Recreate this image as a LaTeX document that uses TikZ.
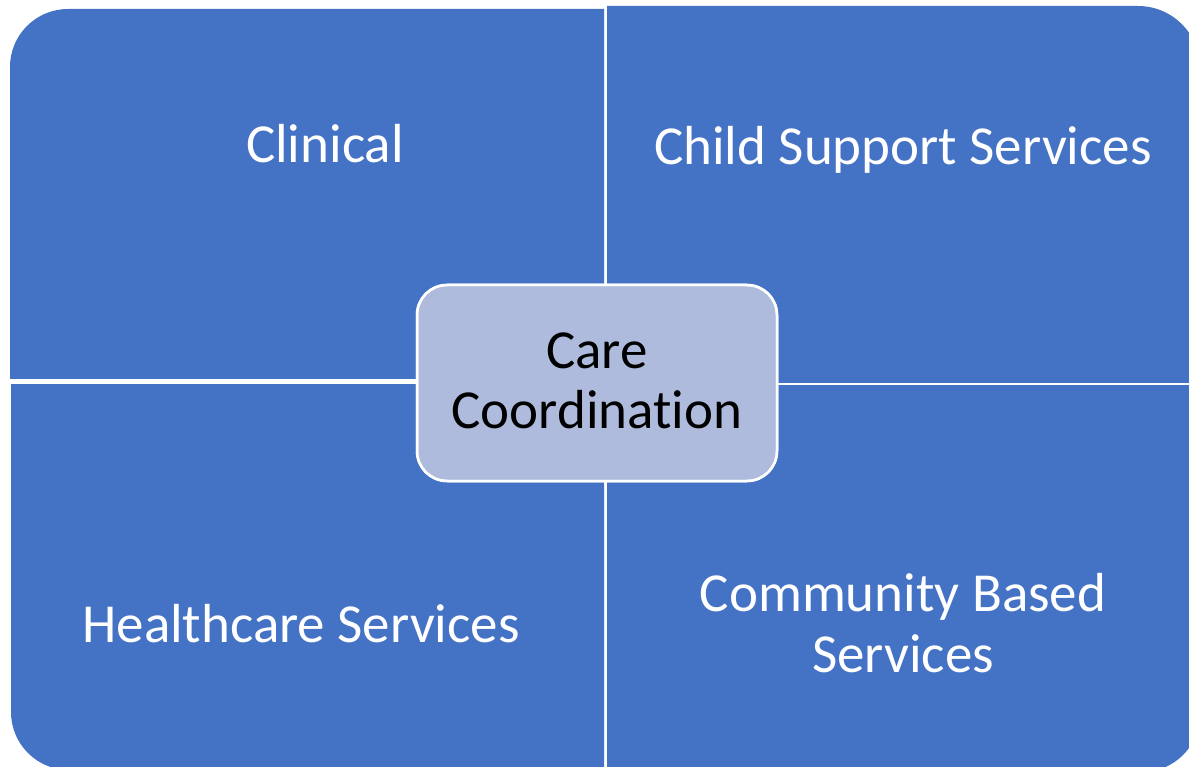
\documentclass[tikz,border=0pt]{standalone}
\usepackage{fontspec}
\setmainfont{Carlito}[Ligatures=NoCommon]
\definecolor{quadblue}{HTML}{4472C4}
\definecolor{hubfill}{HTML}{AFBBDD}
\begin{document}
\begin{tikzpicture}[x=1pt,y=-1pt,
  quad/.style={fill=quadblue},
  quadlabel/.style={text=white,font=\fontsize{55}{61}\selectfont,align=center,anchor=base,inner sep=0pt},
  hub/.style={fill=hubfill,draw=white,line width=2.5pt,rounded corners=30pt},
  hublabel/.style={text=black,font=\fontsize{55}{60}\selectfont,align=center,anchor=base,inner sep=0pt}]
\useasboundingbox (0,0) rectangle (1189,767);
\fill[white] (0,0) rectangle (1189,767);
% four quadrants, each rounded only at its outer corner
\begin{scope}
  \clip (10,9) rectangle (604,378);
  \fill[quad,rounded corners=58pt] (10,9) rectangle (900,700);
\end{scope}
\begin{scope}
  \clip (607,6) rectangle (1200,382);
  \fill[quad,rounded corners=62pt] (300,6) rectangle (1200,700);
\end{scope}
\begin{scope}
  \clip (11,384) rectangle (604,775);
  \fill[quad,rounded corners=58pt] (11,100) rectangle (900,770);
\end{scope}
\begin{scope}
  \clip (607,385) rectangle (1205,780);
  \fill[quad,rounded corners=58pt] (300,100) rectangle (1200,772);
\end{scope}
% labels (base anchor of a two-line label sits on its last line)
\node[quadlabel] (clinical) at (325,163) {Clinical};
\node[quadlabel] (child) at (903,165) {Child Support Services};
\node[quadlabel] (health) at (301,642) {Healthcare Services};
\node[quadlabel] (community) at (903,672) {Community Based\\Services};
% central hub
\fill[hub] (417,285) rectangle (777,481);
\draw[hub,fill=none] (417,285) rectangle (777,481);
\node[hublabel] (care) at (597,428) {Care\\Coordination};
\end{tikzpicture}
\end{document}
